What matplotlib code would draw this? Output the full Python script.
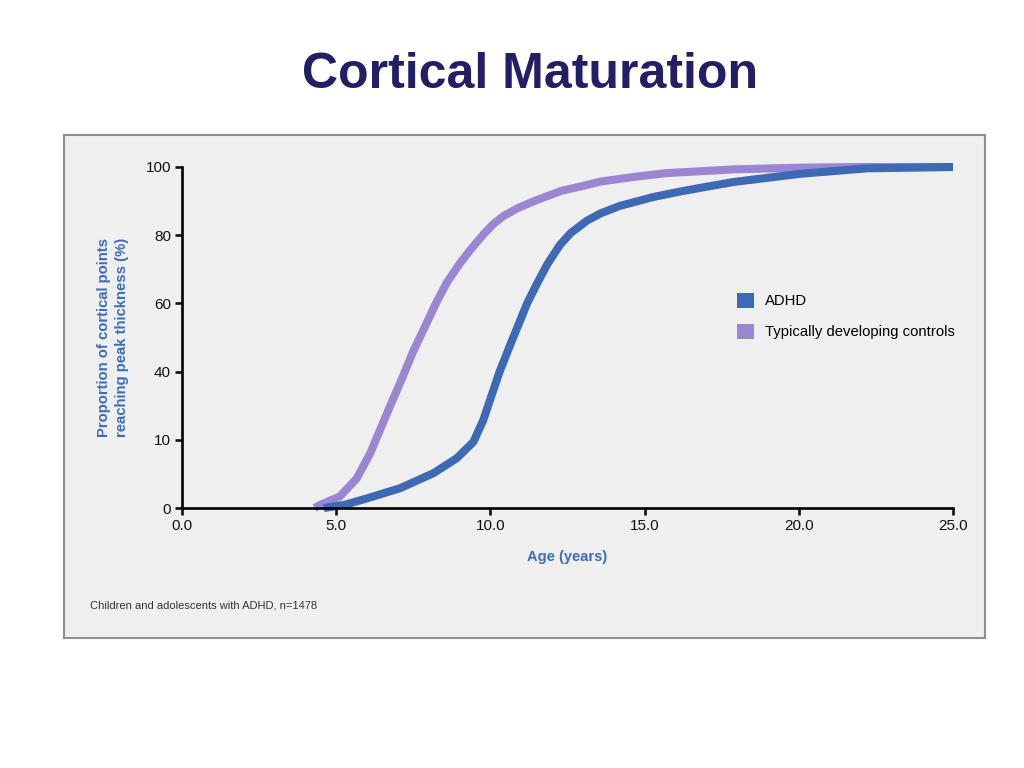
import numpy as np
import matplotlib
matplotlib.use("Agg")
import matplotlib.pyplot as plt
from matplotlib.patches import Rectangle, Patch

plt.rcParams['font.family'] = ['Liberation Sans', 'DejaVu Sans']

# ---- data ----
adhd_age = [4.6, 5.3, 5.99, 7.07, 8.15, 8.91, 9.45, 9.77, 10.0, 10.3, 10.65,
            11.19, 11.5, 11.84, 12.26, 12.6, 13.12, 13.57, 14.2, 15.28, 16.15,
            17.0, 17.88, 20.04, 22.2, 25.0]
adhd_pct = [0.0, 0.5, 1.4, 2.9, 5.1, 7.3, 9.7, 18.7, 28.0, 40.0, 48.0,
            60.0, 65.6, 71.4, 77.2, 80.6, 84.2, 86.4, 88.6, 91.2, 92.8,
            94.2, 95.6, 98.0, 99.6, 100.0]

ctrl_age = [4.3, 4.47, 5.12, 5.66, 6.10, 6.42, 6.74, 7.07, 7.50, 7.88, 8.2,
            8.58, 9.0, 9.34, 9.8, 10.1, 10.42, 10.9, 11.5, 12.3, 13.12, 13.55,
            14.74, 15.7, 17.88, 20.0, 22.0, 25.0]
ctrl_pct = [0.0, 0.44, 1.7, 4.3, 8.0, 14.3, 24.6, 34.9, 46.0, 53.2, 59.4,
            66.0, 71.6, 75.6, 80.5, 83.3, 85.6, 88.0, 90.3, 93.0, 94.7, 95.7,
            97.2, 98.2, 99.3, 99.8, 100.0, 100.0]

y_ticks = [0, 10, 40, 60, 80, 100]
x_ticks = [0.0, 5.0, 10.0, 15.0, 20.0, 25.0]
x_ticklabels = ["0.0", "5.0", "10.0", "15.0", "20.0", "25.0"]
series_labels = ["ADHD", "Typically developing controls"]

c_adhd = '#3d69b5'
c_ctrl = '#9a86d2'
c_title = '#231f66'
c_axlabel = '#3b6cb8'

fig = plt.figure(figsize=(10.24, 7.68), dpi=100, facecolor='white')

# grey panel
fig.patches.append(Rectangle((64/1024, 1-638/768), 921/1024, 503/768,
                             transform=fig.transFigure, facecolor='#efefef',
                             edgecolor='#8f8f8f', lw=1.5, zorder=-1))

fig.text(530/1024, 1-75/768, "Cortical Maturation", ha='center', va='center',
         fontsize=36, fontweight='bold', color=c_title)

ax = fig.add_axes([182/1024, 1-508/768, 771/1024, 341/768])
ax.set_facecolor('none')
ax.set_zorder(2)

pos = np.arange(len(y_ticks), dtype=float)
vals = np.array(y_ticks, dtype=float)
ax.set_yscale('function', functions=(lambda v: np.interp(v, vals, pos),
                                     lambda p: np.interp(p, pos, vals)))

ax.plot(ctrl_age, ctrl_pct, color=c_ctrl, lw=5.8, clip_on=False,
        solid_capstyle='butt', solid_joinstyle='round', zorder=3)
ax.plot(adhd_age, adhd_pct, color=c_adhd, lw=5.8, clip_on=False,
        solid_capstyle='butt', solid_joinstyle='round', zorder=4)

ax.set_xlim(0, 25)
ax.set_ylim(0, 100)
ax.set_xticks(x_ticks)
ax.set_xticklabels(x_ticklabels)
ax.set_yticks(y_ticks)
ax.set_yticklabels([str(t) for t in y_ticks])
ax.minorticks_off()

for s in ['top', 'right']:
    ax.spines[s].set_visible(False)
for s in ['left', 'bottom']:
    ax.spines[s].set_linewidth(1.9)
    ax.spines[s].set_color('black')
    ax.spines[s].set_zorder(5)
ax.tick_params(axis='both', direction='out', length=5, width=1.9,
               labelsize=11, colors='#111111', pad=3)

ax.set_xlabel("Age (years)", fontsize=10.5, fontweight='bold',
              color=c_axlabel, labelpad=12)
ax.set_ylabel("Proportion of cortical points\nreaching peak thickness (%)",
              fontsize=10.7, fontweight='bold', color=c_axlabel, labelpad=12,
              linespacing=1.3)

handles = [Patch(facecolor=c_adhd, edgecolor='none'),
           Patch(facecolor=c_ctrl, edgecolor='none')]
leg = fig.legend(handles, series_labels, loc='upper left',
                 bbox_to_anchor=(737/1024, 1-293/768), frameon=False,
                 fontsize=10.7, handlelength=1.15, handleheight=1.15,
                 handletextpad=0.75, labelspacing=1.05, borderpad=0,
                 borderaxespad=0)
leg.set_zorder(6)

fig.text(90/1024, 1-606/768, "Children and adolescents with ADHD, n=1478",
         ha='left', va='center', fontsize=8, color='#333333')

fig.savefig('out.png', dpi=100, facecolor='white')
